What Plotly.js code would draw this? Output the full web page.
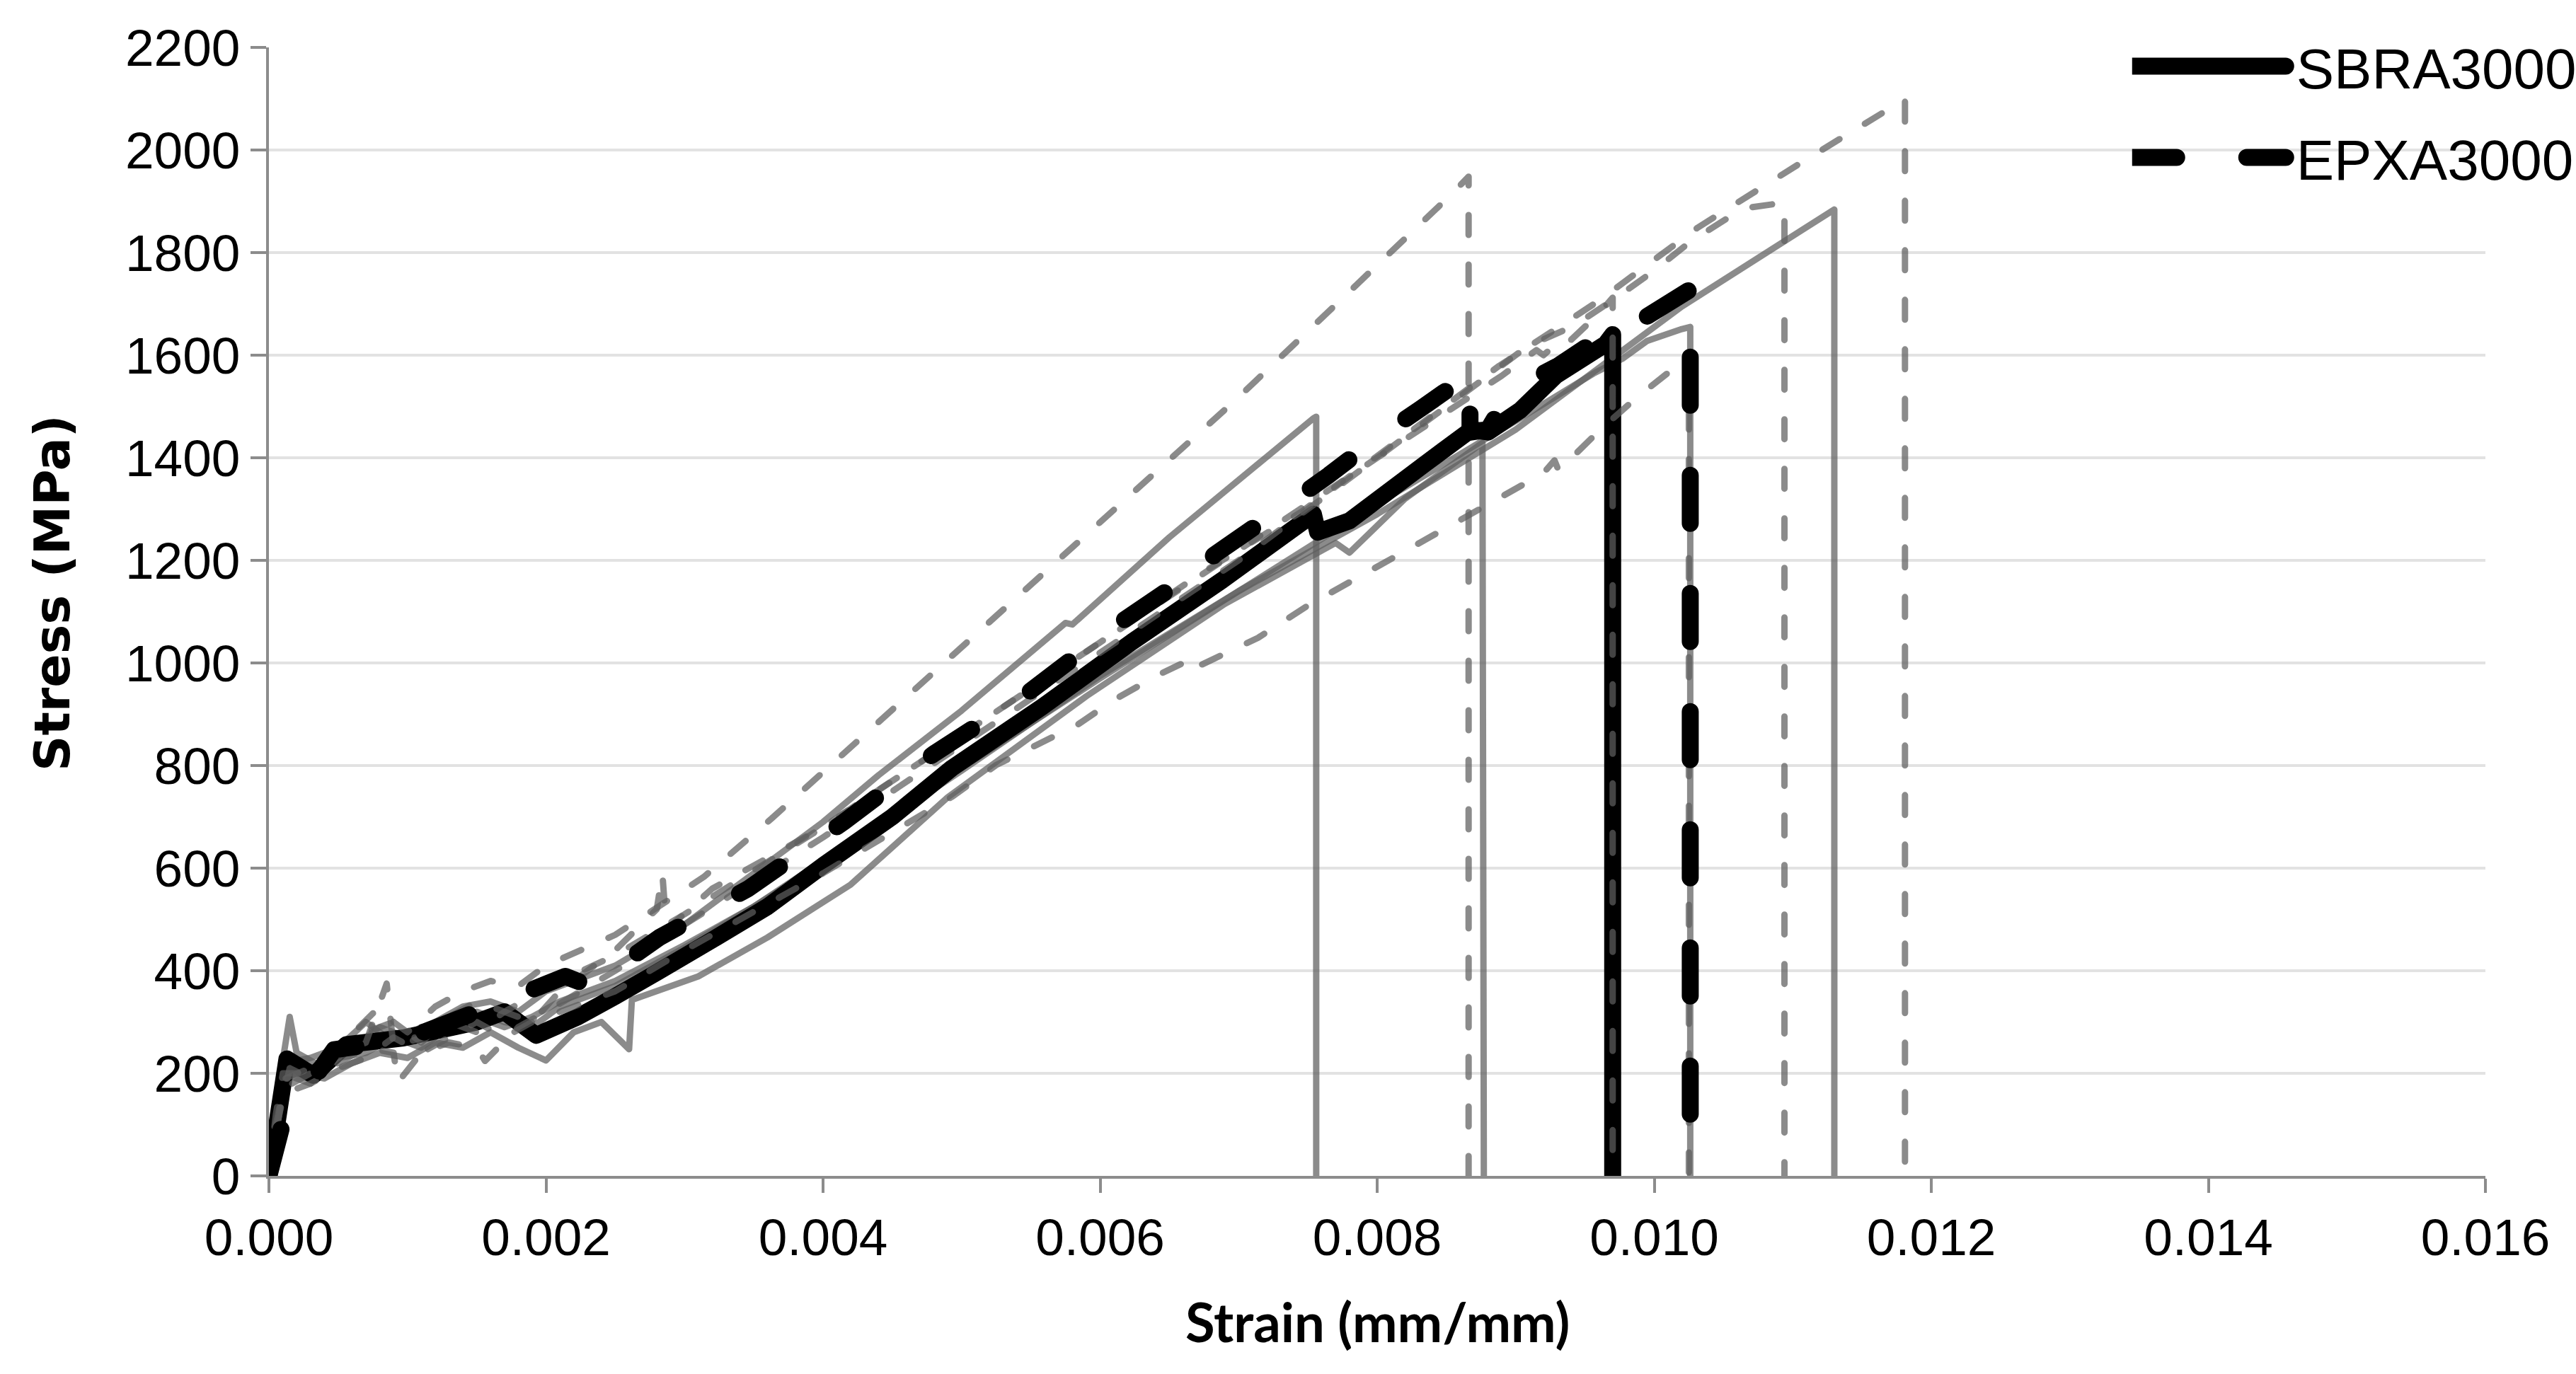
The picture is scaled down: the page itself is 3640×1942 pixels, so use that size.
<!DOCTYPE html>
<html>
<head>
<meta charset="utf-8">
<script src="https://cdn.plot.ly/plotly-3.0.1.min.js"></script>
<style>
  html, body { margin: 0; padding: 0; background: #fff; }
  #chart { width: 3640px; height: 1942px; }
  .scatterlayer .js-line, .legendlines path { stroke-linecap: round !important; stroke-linejoin: round !important; }
  .legendlines path { stroke-width: 24px !important; }
  .legendlines { transform: translate(-10px, 0px); }
</style>
</head>
<body>
<div id="chart"></div>
<script>
// strain (mm/mm) / stress (MPa)

// SBRA3000 specimens (solid grey)
var s1_strain = [0, 0.00005, 0.00015, 0.0002, 0.0004, 0.0006, 0.0008, 0.001, 0.0012, 0.0014, 0.0016, 0.0018, 0.002, 0.0025, 0.003, 0.0035, 0.004, 0.0044, 0.005, 0.00575, 0.0058, 0.0065, 0.00754, 0.00756, 0.00756]
var s1_stress = [0, 140, 310, 240, 210, 250, 290, 270, 300, 330, 340, 320, 360, 410, 490, 590, 690, 781, 907, 1078, 1075, 1245, 1477, 1480, 0]

var s2_strain = [0, 0.00005, 0.0001, 0.0002, 0.0004, 0.0006, 0.0008, 0.001, 0.0012, 0.0014, 0.0016, 0.0018, 0.002, 0.0022, 0.0024, 0.0026, 0.00262, 0.0031, 0.0036, 0.0042, 0.0049, 0.0059, 0.0069, 0.0077, 0.0078, 0.0082, 0.00876, 0.00877]
var s2_stress = [0, 110, 190, 200, 190, 220, 240, 230, 260, 250, 280, 250, 225, 280, 300, 247, 343, 389, 465, 568, 738, 935, 1115, 1234, 1215, 1320, 1429, 0]

var s3_strain = [0, 0.00005, 0.00012, 0.0003, 0.0005, 0.0007, 0.0009, 0.0011, 0.0013, 0.0015, 0.0017, 0.0019, 0.0021, 0.0025, 0.003, 0.0035, 0.004, 0.005, 0.006, 0.007, 0.008, 0.009, 0.00956, 0.00977, 0.00995, 0.0102, 0.01026, 0.01026]
var s3_stress = [0, 120, 220, 230, 250, 300, 260, 290, 280, 320, 300, 290, 330, 370, 445, 525, 615, 795, 970, 1140, 1310, 1472, 1564, 1593, 1628, 1651, 1655, 0]

var s4_strain = [0, 0.00005, 0.0001, 0.0003, 0.0005, 0.0007, 0.0009, 0.0011, 0.0013, 0.0015, 0.0017, 0.0019, 0.0021, 0.0025, 0.003, 0.0035, 0.004, 0.005, 0.006, 0.007, 0.008, 0.009, 0.0102, 0.0113, 0.0113]
var s4_stress = [0, 100, 200, 180, 230, 240, 270, 250, 290, 310, 290, 310, 340, 380, 450, 525, 610, 790, 975, 1140, 1290, 1455, 1695, 1884, 0]

// EPXA3000 specimens (dashed grey)
var e1_strain = [0, 0.00005, 0.0001, 0.0003, 0.0005, 0.0008, 0.0009, 0.001, 0.0012, 0.0014, 0.0016, 0.0018, 0.002, 0.0025, 0.00314, 0.00363, 0.00487, 0.00698, 0.00853, 0.00866, 0.00866]
var e1_stress = [0, 120, 200, 200, 250, 330, 300, 280, 330, 360, 380, 370, 410, 470, 583, 697, 999, 1513, 1912, 1948, 0]

var e2_strain = [0, 0.00005, 0.00015, 0.0003, 0.0005, 0.0007, 0.00085, 0.0009, 0.0011, 0.0013, 0.0015, 0.0017, 0.0019, 0.0021, 0.0025, 0.0028, 0.00284, 0.00287, 0.0032, 0.004, 0.005, 0.006, 0.007, 0.008, 0.0089, 0.00915, 0.0092, 0.00935, 0.0094, 0.0096, 0.0097, 0.0097]
var e2_stress = [0, 90, 210, 190, 230, 260, 375, 250, 270, 300, 280, 320, 300, 360, 440, 520, 590, 480, 560, 680, 860, 1040, 1220, 1400, 1560, 1610, 1600, 1635, 1630, 1681, 1712, 0]

var e3_strain = [0, 0.00005, 0.0001, 0.0003, 0.0005, 0.0007, 0.0009, 0.00093, 0.0011, 0.0013, 0.0015, 0.00156, 0.0018, 0.002, 0.0025, 0.003, 0.004, 0.005, 0.006, 0.007, 0.008, 0.00909, 0.00942, 0.00971, 0.00999, 0.01026, 0.01054, 0.01069, 0.01085, 0.01094, 0.01094]
var e3_stress = [0, 80, 170, 200, 220, 250, 240, 182, 240, 260, 250, 224, 290, 320, 400, 490, 660, 840, 1020, 1200, 1400, 1618, 1657, 1709, 1763, 1821, 1869, 1888, 1894, 1895, 0]

var e4_strain = [0, 0.00005, 0.00012, 0.0003, 0.0005, 0.0007, 0.0009, 0.0011, 0.0013, 0.0015, 0.0017, 0.0019, 0.0021, 0.0025, 0.003, 0.004, 0.005, 0.006, 0.00673, 0.00745, 0.00817, 0.00888, 0.0096, 0.01031, 0.0111, 0.01181, 0.01181]
var e4_stress = [0, 100, 190, 210, 240, 280, 300, 260, 310, 340, 320, 350, 380, 430, 510, 680, 860, 1040, 1175, 1294, 1437, 1579, 1706, 1848, 1982, 2099, 0]

var e5_strain = [0, 0.00005, 0.0001, 0.0003, 0.0005, 0.0007, 0.0009, 0.0011, 0.0013, 0.0015, 0.0017, 0.0019, 0.0021, 0.0025, 0.003, 0.004, 0.00493, 0.00525, 0.00584, 0.0061, 0.00643, 0.0066, 0.00665, 0.00672, 0.00714, 0.0075, 0.00828, 0.0092, 0.00928, 0.00931, 0.0096, 0.00985, 0.01012, 0.01025, 0.01025]
var e5_stress = [0, 80, 160, 180, 210, 230, 270, 240, 270, 300, 270, 300, 320, 360, 440, 590, 739, 801, 880, 928, 978, 1000, 1015, 995, 1049, 1112, 1230, 1370, 1395, 1375, 1452, 1512, 1570, 1595, 0]

// averages (black)
var sbra_strain = [0, 0.00013, 0.00032, 0.00056, 0.00097, 0.0015, 0.0017, 0.00193, 0.00223, 0.0025, 0.00281, 0.0032, 0.0036, 0.004, 0.0045, 0.00493, 0.00558, 0.00623, 0.00688, 0.00754, 0.00757, 0.0078, 0.00835, 0.00868, 0.0088, 0.00903, 0.00929, 0.00965, 0.0097, 0.0097]
var sbra_stress = [0, 228, 196, 256, 269, 300, 320, 274, 310, 350, 398, 460, 525, 605, 700, 795, 914, 1041, 1161, 1290, 1255, 1277, 1389, 1455, 1450, 1492, 1560, 1622, 1640, 0]

var epxa_strain = [0, 0.0001, 0.00047, 0.00097, 0.0015, 0.00214, 0.00232, 0.00282, 0.00346, 0.00415, 0.0048, 0.00548, 0.00613, 0.0067, 0.00675, 0.00682, 0.0075, 0.00765, 0.00799, 0.00831, 0.00867, 0.00867, 0.0088, 0.0089, 0.00903, 0.00931, 0.0097, 0.00995, 0.01026, 0.01026]
var epxa_stress = [0, 104, 246, 265, 320, 389, 370, 465, 560, 690, 823, 942, 1076, 1180, 1170, 1210, 1337, 1366, 1436, 1495, 1563, 1450, 1455, 1500, 1540, 1580, 1650, 1676, 1728, 0]

var x_ticks = [0, 0.002, 0.004, 0.006, 0.008, 0.010, 0.012, 0.014, 0.016]
var y_ticks = [0, 200, 400, 600, 800, 1000, 1200, 1400, 1600, 1800, 2000, 2200]

// translucent grey: shows as mid grey on white, dark grey on black
var grey = 'rgba(94,94,94,0.72)'

function specimen(x, y, dashed) {
	return {
		x: x,
		y: y,
		mode: 'lines',
		type: 'scatter',
		showlegend: false,
		hoverinfo: 'skip',
		line: {color: grey, width: 9, dash: dashed ? '28px,42px' : 'solid', simplify: false},
	}
}

var sbra_mean = {
	x: sbra_strain,
	y: sbra_stress,
	mode: 'lines',
	type: 'scatter',
	name: 'SBRA3000',
	legendgroup: 'a',
	line: {color: '#000', width: 24, simplify: false},
}

var epxa_mean = {
	x: epxa_strain,
	y: epxa_stress,
	mode: 'lines',
	type: 'scatter',
	name: 'EPXA3000',
	legendgroup: 'b',
	line: {color: '#000', width: 24, dash: '68px,99px', simplify: false},
}

// drawing order as in the source: SBRA specimens, SBRA mean, EPXA specimens, EPXA mean
var traces = [
	specimen(s1_strain, s1_stress, false),
	specimen(s2_strain, s2_stress, false),
	specimen(s3_strain, s3_stress, false),
	specimen(s4_strain, s4_stress, false),
	sbra_mean,
	specimen(e1_strain, e1_stress, true),
	specimen(e2_strain, e2_stress, true),
	specimen(e3_strain, e3_stress, true),
	specimen(e4_strain, e4_stress, true),
	specimen(e5_strain, e5_stress, true),
	epxa_mean,
]

var axis_grey = '#8c8c8c'
var tick_font = {family: '"Liberation Sans", Arial, sans-serif', size: 73, color: '#000'}

var layout = {
	width: 3640,
	height: 1942,
	paper_bgcolor: '#fff',
	plot_bgcolor: '#fff',
	margin: {l: 380, r: 128, t: 67, b: 280, pad: 0, autoexpand: false},
	showlegend: true,
	legend: {
		x: 0.8406,
		xanchor: 'left',
		y: 1.02,
		yanchor: 'top',
		itemwidth: 222,
		tracegroupgap: 22,
		traceorder: 'grouped',
		bgcolor: 'rgba(0,0,0,0)',
		font: {family: '"Liberation Sans", Arial, sans-serif', size: 80, color: '#000'},
	},
	xaxis: {
		range: [0, 0.016],
		tickvals: x_ticks,
		tickformat: '.3f',
		showgrid: false,
		zeroline: false,
		showline: true,
		linecolor: axis_grey,
		linewidth: 4,
		ticks: 'outside',
		ticklen: 20,
		tickwidth: 4,
		tickcolor: axis_grey,
		tickfont: tick_font,
	},
	yaxis: {
		range: [0, 2200],
		tickvals: y_ticks,
		showgrid: true,
		gridcolor: '#e2e2e2',
		gridwidth: 4,
		zeroline: false,
		showline: true,
		linecolor: axis_grey,
		linewidth: 4,
		ticks: 'outside',
		ticklen: 22,
		tickwidth: 4,
		tickcolor: axis_grey,
		tickfont: tick_font,
	},
	annotations: [
		{
			text: '<b>Strain (mm/mm)</b>',
			xref: 'paper', yref: 'paper',
			x: 0.5, y: -0.129,
			xanchor: 'center', yanchor: 'middle',
			showarrow: false,
			font: {family: 'Lato, "Open Sans", sans-serif', size: 76, color: '#000'},
		},
		{
			text: '<b>Stress (MPa)</b>',
			xref: 'paper', yref: 'paper',
			x: -0.0977, y: 0.5166,
			xanchor: 'center', yanchor: 'middle',
			textangle: -90,
			showarrow: false,
			font: {family: '"DejaVu Sans", Verdana, sans-serif', size: 70, color: '#000'},
		},
	],
}

Plotly.newPlot('chart', traces, layout, {displayModeBar: false, staticPlot: true})
</script>
</body>
</html>
